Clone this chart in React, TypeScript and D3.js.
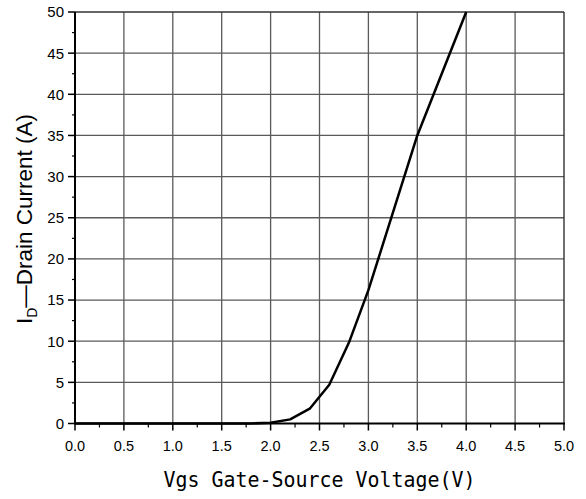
import React from "react";
import * as d3 from "d3";

const vgs = [0.0, 0.2, 0.4, 0.6, 0.8, 1.0, 1.2, 1.4, 1.6, 1.8, 2.0, 2.2, 2.4, 2.6, 2.8, 3.0, 3.5, 4.0];
const idCurrent = [0, 0, 0, 0, 0, 0, 0, 0, 0, 0, 0.1, 0.5, 1.8, 4.7, 9.8, 16.2, 35, 50];
const xTicks = [0, 0.5, 1, 1.5, 2, 2.5, 3, 3.5, 4, 4.5, 5];
const yTicks = [0, 5, 10, 15, 20, 25, 30, 35, 40, 45, 50];
const xTitle = "Vgs Gate-Source Voltage(V)";

const W = 586, H = 499;
const L = 75, R = 564, T = 12, B = 423.5;

export default function App() {
  const x = d3.scaleLinear().domain([0, 5]).range([L, R]);
  const y = d3.scaleLinear().domain([0, 50]).range([B, T]);
  const pts: [number, number][] = vgs.map((v, i) => [v, idCurrent[i]]);
  const line = d3.line<[number, number]>().x(d => x(d[0])).y(d => y(d[1]));
  const xMinor = d3.range(0.25, 5, 0.5);
  const yMinor = d3.range(2.5, 50, 5);
  const grid = "#5a5a5a";
  return (
    <svg width={W} height={H} style={{ position: "absolute", left: 0, top: 0, background: "#fff" }}>
      {xTicks.slice(1, -1).map(t => (
        <line key={"gx" + t} x1={x(t)} x2={x(t)} y1={T} y2={B} stroke={grid} strokeWidth={1.3} />
      ))}
      {yTicks.slice(1, -1).map(t => (
        <line key={"gy" + t} x1={L} x2={R} y1={y(t)} y2={y(t)} stroke={grid} strokeWidth={1.3} />
      ))}
      <line x1={L} x2={R} y1={T} y2={T} stroke="#333" strokeWidth={1.3} />
      <line x1={R} x2={R} y1={T} y2={B} stroke="#222" strokeWidth={1.3} />
      <line x1={L} x2={R + 1} y1={B} y2={B} stroke="#000" strokeWidth={2} />
      <line x1={L} x2={L} y1={T} y2={B + 1} stroke="#000" strokeWidth={2} />
      {xTicks.map(t => (
        <line key={"xt" + t} x1={x(t)} x2={x(t)} y1={B} y2={B + 7} stroke="#000" strokeWidth={1.5} />
      ))}
      {xMinor.map(t => (
        <line key={"xm" + t} x1={x(t)} x2={x(t)} y1={B} y2={B + 4} stroke="#000" strokeWidth={1.2} />
      ))}
      {xTicks.map(t => (
        <text key={"xl" + t} x={x(t)} y={451} textAnchor="middle" fontFamily="Liberation Sans, Arial, sans-serif" fontSize={14.5} fill="#000">
          {t.toFixed(1)}
        </text>
      ))}
      {yTicks.map(t => (
        <line key={"yt" + t} x1={L - 7} x2={L} y1={y(t)} y2={y(t)} stroke="#000" strokeWidth={1.5} />
      ))}
      {yMinor.map(t => (
        <line key={"ym" + t} x1={L - 3} x2={L} y1={y(t)} y2={y(t)} stroke="#000" strokeWidth={1.2} />
      ))}
      {yTicks.map(t => (
        <text key={"yl" + t} x={64} y={y(t)} dy="0.36em" textAnchor="end" fontFamily="Liberation Sans, Arial, sans-serif" fontSize={15} fill="#000">
          {t}
        </text>
      ))}
      <path d={line(pts) || ""} fill="none" stroke="#000" strokeWidth={2.5} strokeLinejoin="round" />
      <text x={(L + R) / 2} y={487} textAnchor="middle" fontFamily="DejaVu Sans Mono, monospace" fontSize={21} textLength={312} lengthAdjust="spacingAndGlyphs" fill="#000">
        {xTitle}
      </text>
      <text transform={`translate(32, 219) rotate(-90)`} textAnchor="middle" fontFamily="Liberation Sans, Arial, sans-serif" fontSize={22.5} fill="#000">
        <tspan>I</tspan>
        <tspan fontSize={14} dy={5}>D</tspan>
        <tspan dy={-5}>—Drain Current (A)</tspan>
      </text>
    </svg>
  );
}
